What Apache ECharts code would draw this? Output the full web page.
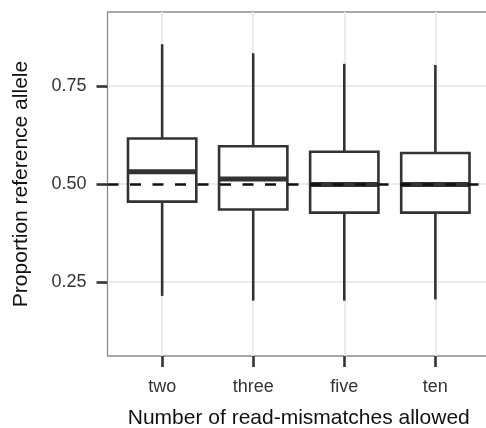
<!DOCTYPE html>
<html>
<head>
<meta charset="utf-8">
<script src="https://cdn.jsdelivr.net/npm/echarts@6/dist/echarts.min.js"></script>
<style>
html,body{margin:0;padding:0;background:#fff;}
#c{width:486px;height:428px;}
</style>
</head>
<body>
<div id="c"></div>
<script>
const categories = ['two', 'three', 'five', 'ten'];
const whiskerLow = [0.215, 0.203, 0.203, 0.206];
const q1 = [0.455, 0.435, 0.427, 0.427];
const median = [0.531, 0.513, 0.499, 0.499];
const q3 = [0.616, 0.596, 0.582, 0.579];
const whiskerHigh = [0.856, 0.833, 0.806, 0.803];
const yTicks = [0.25, 0.5, 0.75];
const yTickLabels = ['0.25', '0.50', '0.75'];
const refLine = 0.5;
const xTitle = 'Number of read-mismatches allowed';
const yTitle = 'Proportion reference allele';

const boxData = categories.map((c, i) => [i + 1, whiskerLow[i], q1[i], median[i], q3[i], whiskerHigh[i]]);
const xPositions = categories.map((c, i) => i + 1);
const FONT = '"Liberation Sans", Arial, Helvetica, sans-serif';
const BOX_W = 0.75;

const chart = echarts.init(document.getElementById('c'), null, {renderer: 'canvas'});
chart.setOption({
  animation: false,
  backgroundColor: '#fff',
  grid: {
    left: 107.5, top: 12, width: 382.5, height: 344,
    outerBoundsMode: 'none', containLabel: false,
    show: true, borderColor: '#8a8a8a', borderWidth: 1.3, backgroundColor: '#fff'
  },
  xAxis: {
    type: 'value', min: 0.4, max: 4.6,
    name: xTitle, nameLocation: 'middle', nameGap: 52,
    nameTextStyle: {fontSize: 21, color: '#111', fontFamily: FONT},
    axisLine: {show: false},
    axisTick: {show: true, customValues: xPositions, length: 11, lineStyle: {color: '#333', width: 2.6}},
    axisLabel: {
      customValues: xPositions, margin: 22, fontSize: 18, color: '#333', fontFamily: FONT,
      formatter: v => categories[Math.round(v) - 1] || ''
    },
    splitLine: {show: true, lineStyle: {color: '#ebebeb', width: 2}}
  },
  yAxis: {
    type: 'value', min: 0.062, max: 0.938,
    name: yTitle, nameLocation: 'middle', nameGap: 76,
    nameTextStyle: {fontSize: 21, color: '#111', fontFamily: FONT},
    axisLine: {show: false},
    axisTick: {show: true, customValues: yTicks, length: 11, lineStyle: {color: '#333', width: 2.6}},
    axisLabel: {
      customValues: yTicks, margin: 21, fontSize: 18, color: '#333', fontFamily: FONT,
      formatter: v => { const k = yTicks.findIndex(t => Math.abs(t - v) < 1e-6); return k >= 0 ? yTickLabels[k] : ''; }
    },
    splitLine: {show: true, lineStyle: {color: '#ebebeb', width: 2}}
  },
  series: [
    {
      type: 'custom',
      z: 3,
      data: boxData,
      encode: {x: 0, y: [1, 2, 3, 4, 5]},
      renderItem: function (params, api) {
        const x = api.value(0);
        const lo = api.coord([x, api.value(1)]);
        const b = api.coord([x, api.value(2)]);
        const m = api.coord([x, api.value(3)]);
        const t = api.coord([x, api.value(4)]);
        const hi = api.coord([x, api.value(5)]);
        const cx = lo[0];
        const half = api.size([BOX_W, 0])[0] / 2;
        const st = {stroke: '#333', lineWidth: 2.6, fill: null};
        return {
          type: 'group',
          children: [
            {type: 'line', shape: {x1: cx, y1: hi[1], x2: cx, y2: t[1]}, style: st},
            {type: 'line', shape: {x1: cx, y1: b[1], x2: cx, y2: lo[1]}, style: st},
            {type: 'rect', shape: {x: cx - half, y: t[1], width: 2 * half, height: b[1] - t[1]},
             style: {stroke: '#333', lineWidth: 2.6, fill: '#fff'}},
            {type: 'line', shape: {x1: cx - half, y1: m[1], x2: cx + half, y2: m[1]},
             style: {stroke: '#333', lineWidth: 5}}
          ]
        };
      }
    },
    {
      type: 'line',
      z: 5,
      data: [],
      markLine: {
        silent: true, symbol: 'none', label: {show: false}, animation: false,
        lineStyle: {type: [11, 11.5], color: '#111', width: 2.6},
        data: [{yAxis: refLine}]
      }
    }
  ]
});
</script>
</body>
</html>
